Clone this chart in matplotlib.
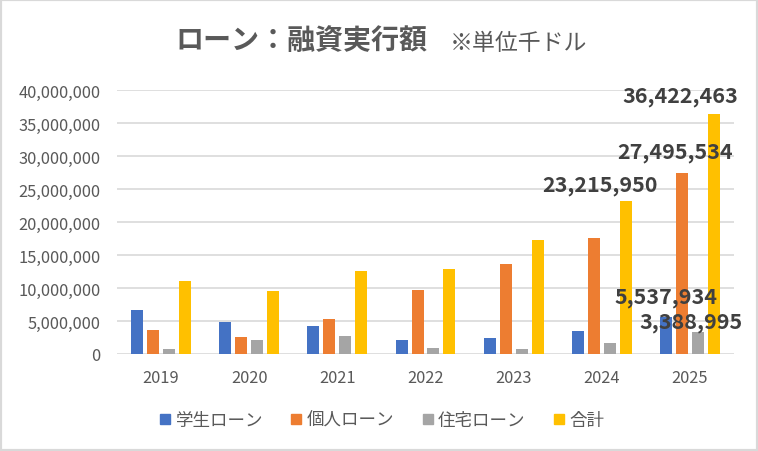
import matplotlib
matplotlib.use("Agg")
import matplotlib.pyplot as plt
import numpy as np
from matplotlib.lines import Line2D
from matplotlib.patches import Rectangle
from matplotlib.ticker import FuncFormatter, MultipleLocator

plt.rcParams['font.family'] = ['Noto Sans CJK JP', 'DejaVu Sans']

# --- data (thousand USD) ---
years = ['2019', '2020', '2021', '2022', '2023', '2024', '2025']
series_names = ['学生ローン', '個人ローン', '住宅ローン', '合計']
student = [6.7e6, 4.9e6, 4.2e6, 2.05e6, 2.45e6, 3.5e6, 5537934]
personal = [3.6e6, 2.55e6, 5.25e6, 9.7e6, 13.6e6, 17.6e6, 27495534]
housing = [0.72e6, 2.1e6, 2.8e6, 0.87e6, 0.77e6, 1.7e6, 3388995]
total = [11.1e6, 9.6e6, 12.6e6, 12.9e6, 17.3e6, 23215950, 36422463]

colors = ['#4472C4', '#ED7D31', '#A5A5A5', '#FFC000']
text_gray = '#595959'
label_gray = '#404040'

fig = plt.figure(figsize=(7.58, 4.52), dpi=100)
ax = fig.add_axes([117 / 758, 97 / 452, 617 / 758, 264 / 452])

x = np.arange(len(years))
bar_w = 0.136
step = 0.181
all_series = [student, personal, housing, total]
bars = []
for i, (vals, c) in enumerate(zip(all_series, colors)):
    b = ax.bar(x + (i - 1.5) * step, vals, width=bar_w, color=c, zorder=3)
    bars.append(b)

ax.set_xlim(-0.5, len(years) - 0.5)
ax.set_ylim(0, 40e6)
ax.yaxis.set_major_locator(MultipleLocator(5e6))
ax.yaxis.set_major_formatter(FuncFormatter(lambda v, p: f'{int(v):,}'))
ax.set_xticks(x)
ax.set_xticklabels(years)
ax.grid(axis='y', color='#D9D9D9', linewidth=1.2, zorder=0)
for s in ax.spines.values():
    s.set_visible(False)
ax.tick_params(axis='both', length=0, labelsize=11.8, colors=text_gray)
ax.tick_params(axis='y', pad=12)
ax.tick_params(axis='x', pad=11)

# data labels that were placed by hand in the original
labels = [
    (3, 6, -34, 18),   # total 2025
    (1, 6, -7, 21),    # personal 2025
    (3, 5, -26, 16),   # total 2024
    (0, 6, 0, 21),     # student 2025
    (2, 6, -7, 10),    # housing 2025
]
for si, yi, dx, dy in labels:
    rect = bars[si][yi]
    val = all_series[si][yi]
    ax.annotate(f'{int(val):,}', xy=(rect.get_x() + rect.get_width() / 2, val),
                xytext=(dx, dy), textcoords='offset pixels',
                ha='center', va='center', fontsize=15.5, fontweight='bold',
                color=label_gray, zorder=5)

# title
fig.text(175 / 758, 1 - 41 / 452, 'ローン：融資実行額', fontsize=20.2, fontweight='bold',
         color=text_gray, ha='left', va='center')
fig.text(450 / 758, 1 - 43 / 452, '※単位千ドル', fontsize=16.5, color=text_gray,
         ha='left', va='center')

handles = [Line2D([], [], linestyle='none', marker='s', markersize=7,
                  markerfacecolor=c, markeredgecolor=c) for c in colors]
fig.legend(handles, series_names, loc='center', bbox_to_anchor=(0.504, 1 - 421 / 452),
           ncol=4, frameon=False, fontsize=12.6, labelcolor=text_gray,
           handlelength=0.6, handletextpad=0.3, columnspacing=1.6)

fig.patches.append(Rectangle((0, 0), 1, 1, transform=fig.transFigure, fill=False,
                             edgecolor='#D9D9D9', linewidth=3))

fig.savefig('out.png', dpi=100)
